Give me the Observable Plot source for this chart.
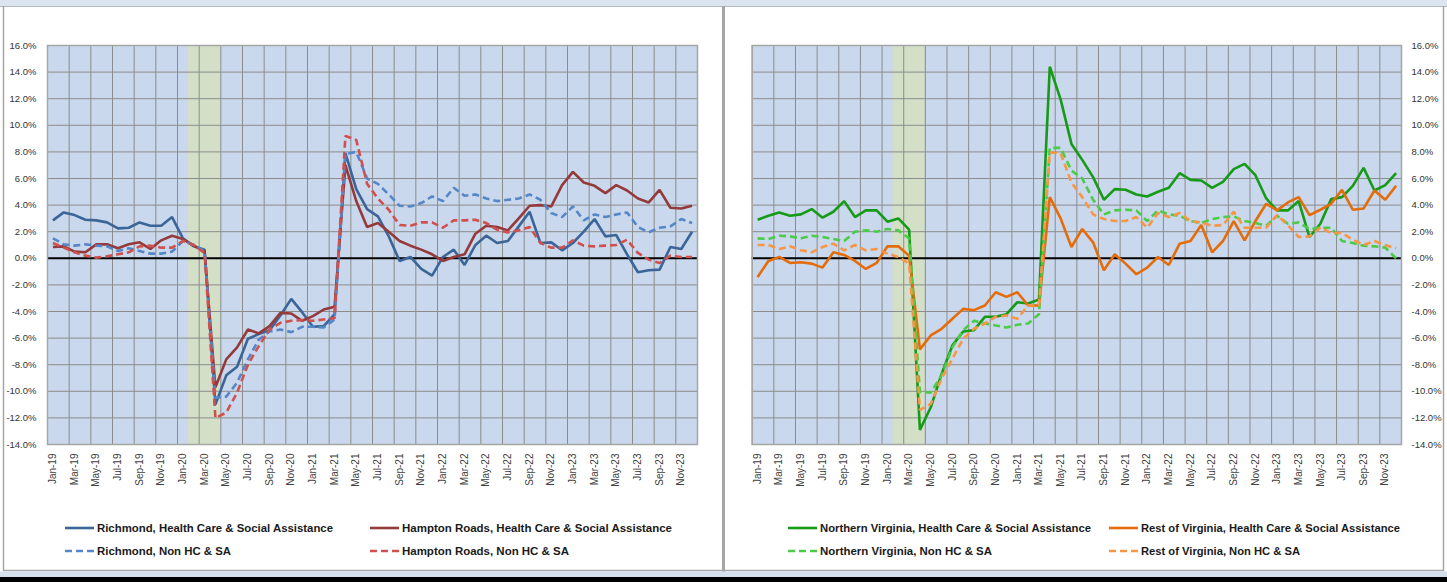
<!DOCTYPE html>
<html>
<head>
<meta charset="utf-8">
<script src="https://cdn.jsdelivr.net/npm/d3@7"></script>
<script src="https://cdn.jsdelivr.net/npm/@observablehq/plot@0.6"></script>
<style>
  html, body { margin: 0; padding: 0; background: #fff; }
  #wrap { position: relative; width: 1447px; height: 582px; overflow: hidden; font-family: "Liberation Sans", Arial, sans-serif; }
  #wrap > svg, #wrap > div { position: absolute; top: 0; }
</style>
</head>
<body>
<div id="wrap"></div>
<script>
// ---------- data ----------
const months = [
  "Jan-19","Feb-19","Mar-19","Apr-19","May-19","Jun-19","Jul-19","Aug-19","Sep-19","Oct-19","Nov-19","Dec-19",
  "Jan-20","Feb-20","Mar-20","Apr-20","May-20","Jun-20","Jul-20","Aug-20","Sep-20","Oct-20","Nov-20","Dec-20",
  "Jan-21","Feb-21","Mar-21","Apr-21","May-21","Jun-21","Jul-21","Aug-21","Sep-21","Oct-21","Nov-21","Dec-21",
  "Jan-22","Feb-22","Mar-22","Apr-22","May-22","Jun-22","Jul-22","Aug-22","Sep-22","Oct-22","Nov-22","Dec-22",
  "Jan-23","Feb-23","Mar-23","Apr-23","May-23","Jun-23","Jul-23","Aug-23","Sep-23","Oct-23","Nov-23","Dec-23"
];
const recessionStart = "Feb-20";
const recessionEnd = "Apr-20";
const yTicks = [-14,-12,-10,-8,-6,-4,-2,0,2,4,6,8,10,12,14,16];

const richmondHC = [2.85,3.45,3.25,2.9,2.85,2.7,2.25,2.3,2.7,2.45,2.45,3.1,
  1.5,0.9,0.65,-11.0,-8.8,-8.15,-6.05,-5.7,-5.4,-4.3,-3.05,-4.05,
  -5.15,-5.1,-4.2,7.9,5.2,3.7,3.15,1.65,-0.2,0.1,-0.8,-1.3,
  0.1,0.65,-0.5,1.0,1.7,1.15,1.3,2.4,3.5,1.15,1.2,0.6,
  1.15,2.0,2.95,1.65,1.75,0.3,-1.05,-0.9,-0.85,0.85,0.7,2.0];
const richmondNon = [1.5,1.05,0.95,1.05,0.95,0.9,0.55,0.75,0.55,0.35,0.35,0.5,
  1.3,1.0,0.55,-10.5,-10.4,-9.35,-7.6,-6.1,-5.5,-5.35,-5.55,-5.15,
  -5.15,-5.2,-4.6,7.85,8.0,6.0,5.6,4.8,3.95,3.9,4.15,4.65,
  4.3,5.3,4.7,4.8,4.5,4.3,4.4,4.5,4.8,4.4,3.4,3.1,
  3.9,2.85,3.3,3.1,3.3,3.45,2.35,1.95,2.3,2.4,2.95,2.65];
const hamptonHC = [0.85,0.9,0.5,0.45,1.05,1.05,0.75,1.05,1.2,0.7,1.35,1.7,
  1.45,0.95,0.5,-9.7,-7.6,-6.7,-5.35,-5.65,-5.1,-4.1,-4.15,-4.7,
  -4.35,-3.85,-3.65,7.0,4.3,2.35,2.65,2.0,1.3,0.95,0.65,0.3,
  -0.2,0.1,0.3,1.85,2.45,2.35,2.1,3.0,3.95,4.0,3.9,5.5,
  6.5,5.7,5.45,4.9,5.5,5.1,4.5,4.2,5.15,3.8,3.75,3.95];
const hamptonNon = [1.15,0.8,0.45,0.2,0.05,0.15,0.3,0.45,0.9,0.95,0.8,0.8,
  1.3,1.0,0.4,-12.0,-11.6,-10.1,-8.0,-6.6,-5.35,-4.85,-4.7,-4.65,
  -4.7,-4.6,-4.5,9.2,8.9,5.6,4.5,3.65,2.5,2.45,2.7,2.7,
  2.3,2.85,2.85,2.9,2.65,2.15,1.95,2.1,2.35,1.15,0.8,0.8,
  1.35,0.95,0.9,0.95,1.0,1.4,0.4,-0.1,-0.35,0.2,0.1,0.1];
const novaHC = [2.9,3.2,3.45,3.2,3.3,3.7,3.05,3.5,4.3,3.1,3.6,3.6,
  2.75,3.0,2.15,-12.9,-11.2,-8.7,-6.55,-5.5,-5.4,-4.4,-4.4,-4.2,
  -3.3,-3.4,-3.1,14.4,11.95,8.6,7.4,6.1,4.4,5.2,5.15,4.8,
  4.65,5.0,5.3,6.4,5.9,5.85,5.3,5.75,6.7,7.1,6.25,4.5,
  3.6,3.6,4.3,1.6,2.6,4.45,4.6,5.45,6.8,5.1,5.5,6.4];
const novaNon = [1.5,1.45,1.7,1.65,1.5,1.7,1.6,1.45,1.3,2.0,2.1,2.0,
  2.2,2.1,1.5,-10.05,-10.1,-8.8,-6.7,-5.4,-4.7,-4.9,-5.05,-5.2,
  -5.0,-4.9,-4.2,8.3,8.3,6.6,6.0,4.4,3.3,3.6,3.65,3.6,
  2.8,3.6,3.3,3.2,2.8,2.65,2.95,3.1,3.15,2.8,2.65,2.45,
  3.2,2.6,2.7,2.2,2.3,2.3,1.3,1.15,0.95,0.9,0.8,0.0];
const restHC = [-1.4,-0.2,0.1,-0.35,-0.3,-0.4,-0.7,0.45,0.25,-0.2,-0.8,-0.35,
  0.9,0.9,0.2,-6.85,-5.8,-5.3,-4.55,-3.8,-3.9,-3.55,-2.55,-2.9,
  -2.55,-3.55,-3.55,4.6,3.0,0.85,2.2,1.2,-0.9,0.3,-0.4,-1.2,
  -0.7,0.1,-0.5,1.1,1.3,2.5,0.45,1.3,2.8,1.35,2.8,4.1,
  3.6,4.2,4.6,3.25,3.65,4.1,5.15,3.65,3.75,5.1,4.4,5.45];
const restNon = [1.0,1.0,0.7,0.9,0.6,0.45,0.85,1.1,0.6,1.0,0.6,0.7,
  0.35,0.1,-0.4,-11.4,-10.95,-9.05,-7.55,-6.05,-5.3,-4.9,-4.4,-4.3,
  -4.55,-3.55,-3.55,7.95,7.9,5.7,4.6,3.3,2.95,2.8,2.8,3.1,
  2.3,3.4,3.1,3.4,2.8,2.7,2.45,2.5,3.5,2.3,2.3,2.3,
  3.25,2.5,1.6,1.65,2.3,1.9,1.9,1.4,1.0,1.3,1.0,0.75];

const leftSeries = [
  {name: "Richmond, Health Care & Social Assistance", values: richmondHC, color: "#3b6598", dash: null},
  {name: "Hampton Roads, Health Care & Social Assistance", values: hamptonHC, color: "#953a3a", dash: null},
  {name: "Richmond, Non HC & SA", values: richmondNon, color: "#5587c8", dash: "7,4"},
  {name: "Hampton Roads, Non HC & SA", values: hamptonNon, color: "#d0504f", dash: "7,4"}
];
const rightSeries = [
  {name: "Northern Virginia, Health Care & Social Assistance", values: novaHC, color: "#169a17", dash: null},
  {name: "Rest of Virginia, Health Care & Social Assistance", values: restHC, color: "#e46c0a", dash: null},
  {name: "Northern Virginia, Non HC & SA", values: novaNon, color: "#4ccb47", dash: "7,4"},
  {name: "Rest of Virginia, Non HC & SA", values: restNon, color: "#f79646", dash: "7,4"}
];

// ---------- chart ----------
const recession = [{x1: months.indexOf(recessionStart), x2: months.indexOf(recessionEnd) + 1}];
const gridX = d3.range(0, months.length + 1, 2);
const labelIdx = d3.range(0, months.length, 2).map(i => i + 0.5);

function panel(series, side) {
  const left = side === "left";
  return Plot.plot({
    width: left ? 725 : 722,
    height: 500,
    marginTop: 45,
    marginBottom: 56,
    marginLeft: left ? 47 : 26.7,
    marginRight: left ? 28 : 46,
    x: {domain: [0, months.length], axis: null},
    y: {domain: [-14, 16], axis: null},
    style: {background: "transparent", fontFamily: "'Liberation Sans', Arial, sans-serif", fontSize: "9.5px", color: "#3a3a3a", overflow: "visible"},
    marks: [
      Plot.frame({fill: "#c9d8ec", stroke: null}),
      Plot.rect(recession, {x1: "x1", x2: "x2", y1: -14, y2: 16, fill: "#d3dfc7"}),
      Plot.ruleX(gridX, {stroke: "#8c8c8c", strokeWidth: 1}),
      Plot.ruleY(yTicks, {stroke: "#8c8c8c", strokeWidth: 1}),
      Plot.ruleY([0], {stroke: "#000", strokeWidth: 2}),
      ...series.map(s => Plot.lineY(s.values, {
        x: (d, i) => i + 0.5, y: d => d,
        stroke: s.color, strokeWidth: 2.6, strokeDasharray: s.dash, strokeLinejoin: "miter", strokeLinecap: "butt"
      })),
      Plot.frame({stroke: "#a6a6a6", strokeWidth: 1.5}),
      Plot.axisY(yTicks, {anchor: side, tickSize: 0, tickPadding: left ? 11 : 10, tickFormat: d => d.toFixed(1) + "%", fill: "#333"}),
      Plot.axisX(labelIdx, {anchor: "bottom", tickSize: 0, tickPadding: 9, tickRotate: -90, tickFormat: d => months[Math.floor(d)], fill: "#404040", fontSize: 10})
    ]
  });
}

const wrap = document.getElementById("wrap");
const NS = "http://www.w3.org/2000/svg";
function el(tag, attrs, parent) {
  const e = document.createElementNS(NS, tag);
  for (const k in attrs) e.setAttribute(k, attrs[k]);
  if (parent) parent.appendChild(e);
  return e;
}

// background frame
const bg = el("svg", {width: 1447, height: 582});
el("rect", {x: 0, y: 0, width: 1447, height: 582, fill: "#fff"}, bg);
el("rect", {x: 0, y: 0, width: 1447, height: 6, fill: "#dce4ef"}, bg);
el("line", {x1: 0, x2: 1447, y1: 6.5, y2: 6.5, stroke: "#b4b9c0", "stroke-width": 1}, bg);
el("line", {x1: 3.5, x2: 3.5, y1: 6, y2: 571, stroke: "#a6a6a6", "stroke-width": 1.5}, bg);
el("rect", {x: 722, y: 6, width: 3, height: 566, fill: "#a6a6a6"}, bg);
el("line", {x1: 1443.5, x2: 1443.5, y1: 6, y2: 571, stroke: "#a6a6a6", "stroke-width": 1.5}, bg);
el("line", {x1: 3, x2: 1444, y1: 570.5, y2: 570.5, stroke: "#a6a6a6", "stroke-width": 1.5}, bg);
el("rect", {x: 0, y: 571.5, width: 1447, height: 5.5, fill: "#d6e0ed"}, bg);
el("rect", {x: 0, y: 577, width: 1447, height: 5, fill: "#000"}, bg);
wrap.appendChild(bg);

const p1 = panel(leftSeries, "left");
p1.style.position = "absolute"; p1.style.left = "0px"; p1.style.top = "0px";
wrap.appendChild(p1);
const p2 = panel(rightSeries, "right");
p2.style.position = "absolute"; p2.style.left = "725px"; p2.style.top = "0px";
wrap.appendChild(p2);

// legend
const legendItems = [
  {s: leftSeries[0], x: 65, y: 528, w: 236},
  {s: leftSeries[1], x: 370, y: 528, w: 270},
  {s: leftSeries[2], x: 65, y: 551, w: 134},
  {s: leftSeries[3], x: 370, y: 551, w: 167},
  {s: rightSeries[0], x: 788, y: 528, w: 271},
  {s: rightSeries[1], x: 1109, y: 528, w: 259},
  {s: rightSeries[2], x: 788, y: 551, w: 172},
  {s: rightSeries[3], x: 1109, y: 551, w: 159}
];
const lg = el("svg", {width: 1447, height: 582});
lg.style.position = "absolute"; lg.style.left = "0px"; lg.style.top = "0px";
for (const it of legendItems) {
  el("line", {x1: it.x, x2: it.x + 29, y1: it.y, y2: it.y, stroke: it.s.color, "stroke-width": 2.6,
    "stroke-dasharray": it.s.dash ? "7,4" : "none"}, lg);
  const t = el("text", {x: it.x + 32, y: it.y + 4, fill: "#1a1a1a", "font-weight": "bold", "font-size": "11.5px",
    "font-family": "'Liberation Sans Narrow', 'Arial Narrow', 'Liberation Sans', Arial, sans-serif",
    textLength: it.w, lengthAdjust: "spacingAndGlyphs"}, lg);
  t.textContent = it.s.name;
}
wrap.appendChild(lg);
</script>
</body>
</html>
